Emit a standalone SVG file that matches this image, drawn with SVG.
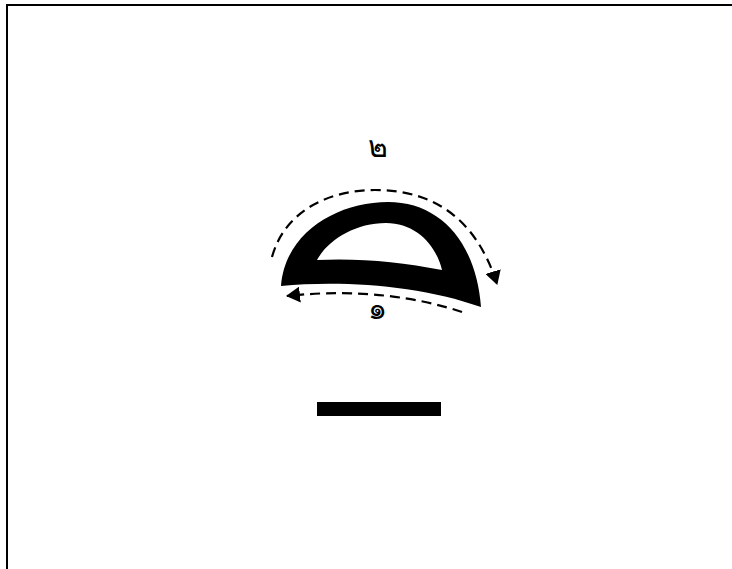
<svg xmlns="http://www.w3.org/2000/svg" width="732" height="569" viewBox="0 0 732 569">
  <style>
    .frame { fill: none; stroke: #000; stroke-width: 2; }
    .dash { fill: none; stroke: #000; stroke-width: 2.2; stroke-dasharray: 10 6; }
    .lbl { font-family: "Noto Sans", "DejaVu Sans", sans-serif; font-size: 30px; fill: #000; text-anchor: middle; }
  </style>
  <defs>
    <marker id="arrow" viewBox="0 0 14 16" refX="13" refY="8" markerWidth="14" markerHeight="16" markerUnits="userSpaceOnUse" orient="auto">
      <path d="M0,0 L14,8 L0,16 Z" fill="#000"/>
    </marker>
  </defs>
  <rect width="732" height="569" fill="#fff"/>
  <g id="frame">
    <path class="frame" d="M7,569 L7,5 L732,5"/>
  </g>
  <g id="arch">
    <path fill="#000" fill-rule="evenodd" d="M281,286 C285,232 338,202 388,202 C440,202 476,242 481,307 C420,285 340,280 281,286 Z M317,260 C328,240 355,223 386,223 C416,223 436,245 442,270 C400,262 360,258 317,260 Z"/>
  </g>
  <g id="bar">
    <rect x="317" y="402" width="124" height="14" fill="#000"/>
  </g>
  <g id="label-2">
    <text class="lbl" x="378" y="157">๒</text>
  </g>
  <g id="label-1">
    <text class="lbl" x="377" y="319">๑</text>
  </g>
  <g id="connectors">
    <path class="dash" marker-end="url(#arrow)" d="M272,257 C285,210 330,190 375,190 C430,190 475,215 497,284"/>
    <path class="dash" marker-end="url(#arrow)" d="M462,312 C420,298 360,288 287,296"/>
  </g>
</svg>
